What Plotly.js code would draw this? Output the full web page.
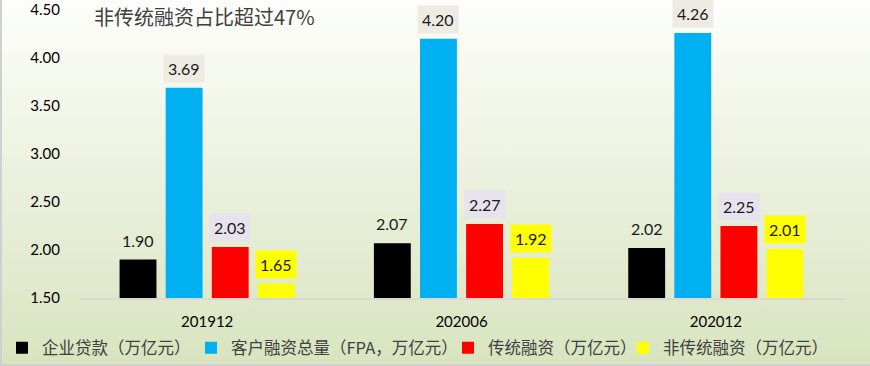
<!DOCTYPE html>
<html>
<head>
<meta charset="utf-8">
<script src="https://cdn.plot.ly/plotly-3.0.1.min.js"></script>
<style>
html,body{margin:0;padding:0;}
#chart{width:870px;height:366px;background:linear-gradient(to bottom,#FDFEFB 0%,#EDF2E0 45%,#D8E4BF 100%);box-sizing:border-box;border-left:2px solid #D0D0D0;border-bottom:2px solid #D0D0D0;}
</style>
</head>
<body>
<div id="chart"></div>
<script>
const categories = ['201912', '202006', '202012'];
const corpLoans = [1.90, 2.07, 2.02];
const fpaTotal = [3.69, 4.20, 4.26];
const traditional = [2.03, 2.27, 2.25];
const nonTraditional = [1.65, 1.92, 2.01];
const seriesNames = ['企业贷款（万亿元）', '客户融资总量（FPA，万亿元）', '传统融资（万亿元）', '非传统融资（万亿元）'];
const yTicks = [1.5, 2.0, 2.5, 3.0, 3.5, 4.0, 4.5];
const titleText = '非传统融资占比超过47%';

const colors = ['#000000', '#00B0F0', '#FF0000', '#FFFF00'];
const labelBg = ['rgba(0,0,0,0)', '#EEEBE3', '#E6E2EE', '#FFFF00'];
const allSeries = [corpLoans, fpaTotal, traditional, nonTraditional];
const FONT = 'Lato, "Noto Sans CJK SC", sans-serif';
const legendIds = ['legend', 'legend2', 'legend3', 'legend4'];
const legendLeftPx = [0, 189, 446, 621];

const bargap = 0.275, groupgap = 0.2;
const slot = (1 - bargap) / 4;

const traces = allSeries.map((vals, k) => ({
  type: 'bar',
  x: categories,
  y: vals,
  name: seriesNames[k],
  legend: legendIds[k],
  marker: {color: colors[k]},
  hoverinfo: 'x+y'
}));

const annotations = [];
allSeries.forEach((vals, k) => {
  const off = -(1 - bargap) / 2 + slot * (k + 0.5);
  vals.forEach((v, i) => {
    annotations.push({
      xref: 'x', yref: 'y', x: i + off, y: v,
      text: v.toFixed(2), showarrow: false,
      yanchor: 'bottom', yshift: 5,
      bgcolor: labelBg[k], borderpad: 4,
      font: {family: FONT, size: 16, color: '#1a1a1a'}
    });
  });
});

const layout = {
  width: 870, height: 366,
  paper_bgcolor: 'rgba(0,0,0,0)', plot_bgcolor: 'rgba(0,0,0,0)',
  margin: {l: 78, r: 29, t: 10, b: 68},
  barmode: 'group', bargap: bargap, bargroupgap: groupgap,
  title: {text: titleText, xref: 'container', x: 92/870, xanchor: 'left', yref: 'container', y: 1 - 18/366, yanchor: 'middle',
          font: {family: '"Noto Sans CJK SC", sans-serif', size: 20, color: '#404040'}},
  xaxis: {type: 'category', showline: true, linecolor: '#D9D9D9', linewidth: 2, ticks: 'outside', ticklen: 9, tickcolor: 'rgba(0,0,0,0)',
          tickfont: {family: FONT, size: 15, color: '#000'}, showgrid: false, fixedrange: true},
  yaxis: {range: [1.5, 4.5], tickvals: yTicks, ticktext: yTicks.map(v => v.toFixed(2)), showgrid: false, zeroline: false,
          ticks: 'outside', ticklen: 16, tickcolor: 'rgba(0,0,0,0)',
          tickfont: {family: FONT, size: 15, color: '#000'}, fixedrange: true},
  annotations: annotations,
  showlegend: true
};
legendIds.forEach((id, k) => {
  layout[id] = {orientation: 'h', xref: 'container', yref: 'container', x: legendLeftPx[k] / 870, y: 1 - 348/366,
                yanchor: 'middle', xanchor: 'left',
                font: {family: '"Noto Sans CJK SC", sans-serif', size: 16.5, color: '#404040'}, bgcolor: 'rgba(0,0,0,0)'};
});

Plotly.newPlot('chart', traces, layout, {displayModeBar: false, staticPlot: true});
</script>
</body>
</html>
